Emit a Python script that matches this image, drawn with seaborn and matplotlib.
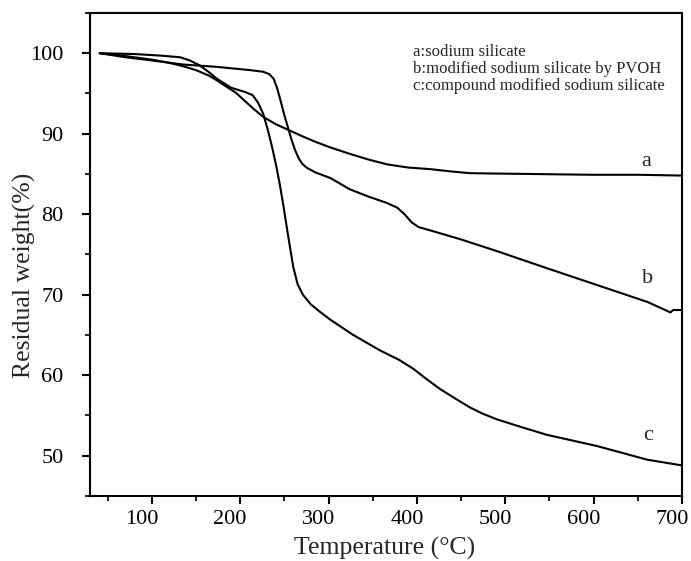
import matplotlib
matplotlib.use("Agg")
import matplotlib.pyplot as plt
import matplotlib.transforms as mtransforms
from matplotlib.ticker import MultipleLocator
import numpy as np
import pandas as pd
import seaborn as sns

# TGA curves: residual weight (%) versus temperature (°C)
temp_a = [41, 60, 80, 100, 120, 135, 150, 165, 174, 185, 195, 205, 215, 226,
          240, 256, 270, 285, 302, 324, 345, 366, 390, 415, 440, 460, 490,
          528, 560, 600, 650, 700]
weight_a = [100.0, 99.8, 99.5, 99.2, 98.8, 98.4, 97.9, 97.2, 96.6, 95.8, 95.1,
            94.1, 93.1, 92.1, 91.2, 90.4, 89.7, 89.0, 88.3, 87.5, 86.8, 86.2,
            85.8, 85.6, 85.3, 85.1, 85.05, 85.0, 84.95, 84.9, 84.9, 84.8]

temp_b = [41, 70, 100, 135, 174, 211, 226, 233, 238, 242, 246, 250, 254, 258,
          262, 266, 270, 275, 285, 302, 324, 345, 366, 378, 386, 394, 402, 418,
          449, 491, 547, 604, 661, 683, 687, 690, 700]
weight_b = [100.0, 99.5, 99.1, 98.6, 98.3, 97.9, 97.7, 97.4, 96.8, 95.6, 94.0,
            92.3, 90.8, 89.3, 88.0, 87.0, 86.3, 85.8, 85.2, 84.5, 83.1, 82.2,
            81.4, 80.8, 80.0, 79.0, 78.4, 77.9, 76.9, 75.4, 73.3, 71.2, 69.1,
            68.0, 67.8, 68.1, 68.1]

temp_c = [41, 80, 110, 132, 143, 154, 164, 174, 190, 205, 214, 220, 226, 231,
          236, 241, 245, 249, 253, 257, 260, 265, 271, 280, 290, 302, 328, 358,
          380, 396, 410, 426, 445, 460, 475, 491, 520, 547, 604, 661, 700]
weight_c = [100.0, 99.9, 99.7, 99.5, 99.1, 98.5, 97.7, 96.8, 95.7, 95.2, 94.8,
            93.9, 92.5, 90.6, 88.4, 85.9, 83.6, 81.0, 78.2, 75.5, 73.5, 71.3,
            70.0, 68.8, 67.9, 66.9, 65.0, 63.1, 61.9, 60.8, 59.6, 58.3, 57.0,
            56.0, 55.2, 54.5, 53.5, 52.6, 51.2, 49.5, 48.8]

samples = ["a", "b", "c"]
legend_lines = ["a:sodium silicate",
                "b:modified sodium silicate by PVOH",
                "c:compound modified sodium silicate"]
x_ticks = [100, 200, 300, 400, 500, 600, 700]
y_ticks = [50, 60, 70, 80, 90, 100]

df = pd.concat([
    pd.DataFrame({"Temperature": temp_a, "Weight": weight_a, "sample": "a"}),
    pd.DataFrame({"Temperature": temp_b, "Weight": weight_b, "sample": "b"}),
    pd.DataFrame({"Temperature": temp_c, "Weight": weight_c, "sample": "c"}),
], ignore_index=True)

sns.set_style("ticks")
plt.rcParams["font.family"] = ["Liberation Serif", "DejaVu Serif"]

fig = plt.figure(figsize=(6.91, 5.61), dpi=100)
ax = fig.add_axes([0.1302, 0.1159, 0.8567, 0.861])

sns.lineplot(data=df, x="Temperature", y="Weight", hue="sample",
             palette={s: "black" for s in samples}, estimator=None,
             sort=False, legend=False, linewidth=1.5, ax=ax)

ax.set_xlim(30, 700)
ax.set_ylim(45, 105)
ax.set_xticks(x_ticks)
ax.set_yticks(y_ticks)
ax.xaxis.set_minor_locator(MultipleLocator(50))
ax.yaxis.set_minor_locator(MultipleLocator(5))

for sp in ax.spines.values():
    sp.set_linewidth(1.5)
    sp.set_color("black")

ax.tick_params(axis="both", which="major", direction="out", length=6,
               width=1.5, labelsize=16, colors="black")
ax.tick_params(axis="both", which="minor", direction="out", length=3.5,
               width=1.5)
ax.tick_params(axis="x", which="major", pad=4)
ax.tick_params(axis="y", which="major", pad=13)

# shift the temperature tick labels slightly to the left
shift = mtransforms.ScaledTranslation(-10 / 100, 0, fig.dpi_scale_trans)
for lbl in ax.get_xticklabels():
    lbl.set_transform(lbl.get_transform() + shift)

ax.set_xlabel("Temperature (°C)", fontsize=18.5, va="center")
ax.set_ylabel("Residual weight(%)", fontsize=18.5, va="center")
ax.xaxis.set_label_coords(0.498, -0.1077)
ax.yaxis.set_label_coords(-0.110, 0.4576)

# curve tags
ax.text(659, 86.5, "a", fontsize=16, ha="center", va="center")
ax.text(661, 72.0, "b", fontsize=16, ha="center", va="center")
ax.text(662, 52.5, "c", fontsize=16, ha="center", va="center")

# sample key
for i, line in enumerate(legend_lines):
    ax.text(0.546, 0.919 - i * 0.0352, line, transform=ax.transAxes,
            fontsize=12, ha="left", va="center")

fig.savefig("out.png", dpi=100, facecolor="white")
